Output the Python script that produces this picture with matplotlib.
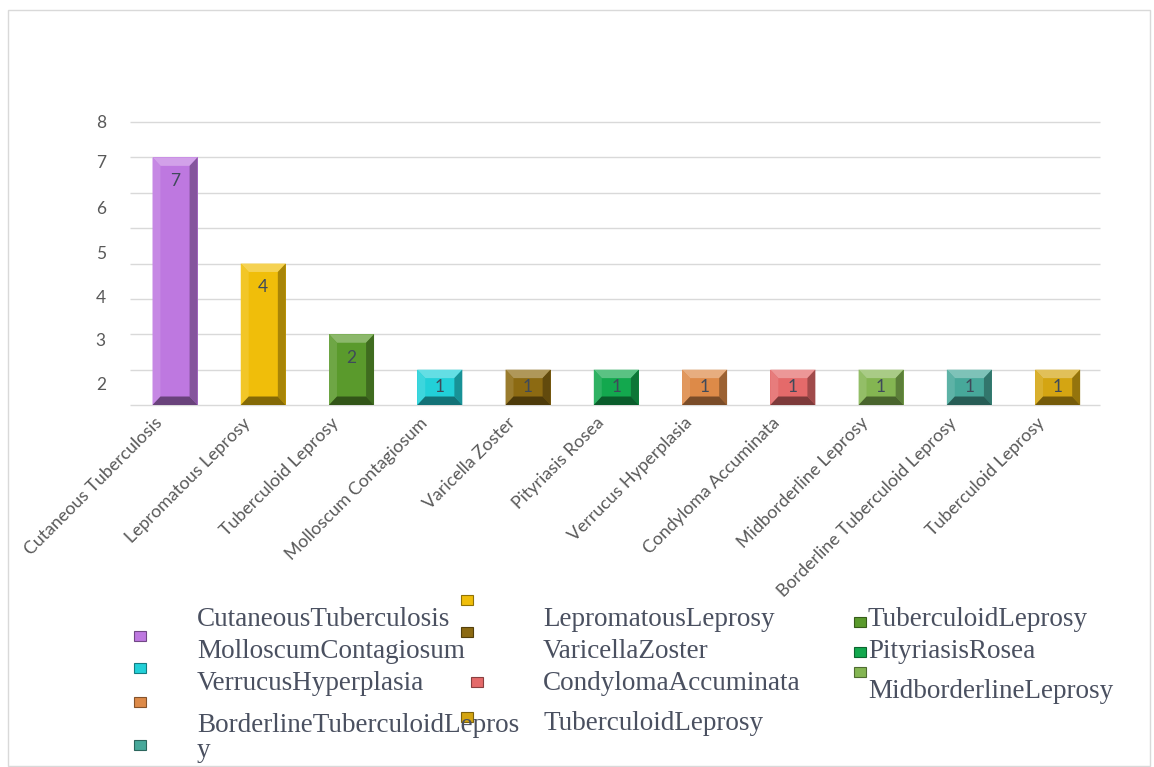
import matplotlib.pyplot as plt
import matplotlib.colors as mcolors
from matplotlib.patches import Rectangle
from matplotlib.transforms import ScaledTranslation
import numpy as np

# data
categories = ["Cutaneous Tuberculosis", "Lepromatous Leprosy", "Tuberculoid Leprosy",
              "Molloscum Contagiosum", "Varicella Zoster", "Pityriasis Rosea",
              "Verrucus Hyperplasia", "Condyloma Accuminata", "Midborderline Leprosy",
              "Borderline Tuberculoid Leprosy", "Tuberculoid Leprosy"]
counts = [7, 4, 2, 1, 1, 1, 1, 1, 1, 1, 1]
bar_colors = ["#BE78E0", "#F0BE0A", "#5A9A2C", "#22D0D8", "#8C6A12", "#13A84E",
              "#DD8A48", "#E46A6A", "#84B552", "#47A89A", "#D4A512"]
# the y labels in the source are shifted off the gridlines
ytick_pos = [0.62, 1.84, 3.07, 4.32, 5.58, 6.89, 8.0]
ytick_labels = ["2", "3", "4", "5", "6", "7", "8"]
grid_levels = list(range(9))

W, H = 1154, 767
fig = plt.figure(figsize=(W / 100, H / 100), dpi=100)
fig.patch.set_facecolor("white")

def px(x, y):
    return x / W, 1 - y / H

# light frame around the chart
fig.add_artist(Rectangle(px(8, 766), (1150 - 8) / W, (766 - 10) / H,
                         transform=fig.transFigure, fill=False,
                         edgecolor="#D9D9D9", lw=1))

ax = fig.add_axes([130 / W, 1 - 405 / H, (1100 - 130) / W, (405 - 122) / H])
x = np.arange(len(categories))
ax.set_xlim(-0.51, 10.48)
ax.set_ylim(0, 8)
ax.hlines(grid_levels, -0.51, 10.48, colors="#D9D9D9", lw=1, zorder=0, clip_on=False)


def shade(c, f):
    r, g, b = mcolors.to_rgb(c)
    if f > 0:
        return (r + (1 - r) * f, g + (1 - g) * f, b + (1 - b) * f)
    return (r * (1 + f), g * (1 + f), b * (1 + f))


half = 0.255
bars = ax.bar(x, counts, width=2 * half, color=bar_colors, zorder=2)
for xi, v, c in zip(x, counts, bar_colors):
    bx = 0.09
    by = min(0.24, 0.28 * v)
    l, r = xi - half, xi + half
    ax.fill([l, r, r - bx, l + bx], [v, v, v - by, v - by], color=shade(c, 0.3), zorder=3, lw=0)
    ax.fill([l, l + bx, l + bx, l], [0, by, v - by, v], color=shade(c, 0.12), zorder=3, lw=0)
    ax.fill([r, r - bx, r - bx, r], [0, by, v - by, v], color=shade(c, -0.3), zorder=3, lw=0)
    ax.fill([l, r, r - bx, l + bx], [0, 0, by, by], color=shade(c, -0.45), zorder=3, lw=0)
    ypos = v - 0.66 if v > 1 else v / 2
    ax.text(xi, ypos, str(v), ha="center", va="center", fontsize=12.5,
            family="Lato", color="#3F4A5A", zorder=4)

ax.set_yticks(ytick_pos, ytick_labels)
ax.tick_params(axis="y", which="both", length=0, pad=21, labelsize=12.5,
               labelcolor="#595959")
for t in ax.get_yticklabels():
    t.set_family("Lato")
    t.set_horizontalalignment("center")

ax.set_xticks(x, categories, rotation=45, ha="right", rotation_mode="anchor")
ax.tick_params(axis="x", length=0, pad=7, labelsize=12.8, labelcolor="#595959")
off = ScaledTranslation(-15 / 72, 0, fig.dpi_scale_trans)
for t in ax.get_xticklabels():
    t.set_family("Lato")
    t.set_transform(t.get_transform() + off)

for s in ax.spines.values():
    s.set_visible(False)

# legend, laid out as in the source (text and markers drift apart)
leg_labels = [c.replace(" ", "") for c in categories]
leg_labels[9] = leg_labels[9][:-1] + "\n" + leg_labels[9][-1]
text_pos = [(197, 619), (543, 619), (868, 619),
            (197, 651), (543, 651), (868, 651),
            (197, 683), (543, 683), (868, 692),
            (197, 738), (543, 723)]
mark_pos = [(140, 636), (467, 600), (860, 622),
            (140, 668), (467, 632), (860, 652),
            (140, 702), (477, 682), (860, 672),
            (140, 745), (467, 717)]
for lab, tp, mp, c in zip(leg_labels, text_pos, mark_pos, bar_colors):
    fig.text(*px(*tp), lab, ha="left", va="center", fontsize=19.5,
             family="Liberation Serif", color="#4A5060", linespacing=1.0)
    mx, my = px(mp[0] - 6, mp[1] + 5)
    fig.add_artist(Rectangle((mx, my), 12 / W, 10 / H, transform=fig.transFigure,
                             facecolor=c, edgecolor=shade(c, -0.4), lw=0.8))

fig.savefig("out.png", dpi=100)
